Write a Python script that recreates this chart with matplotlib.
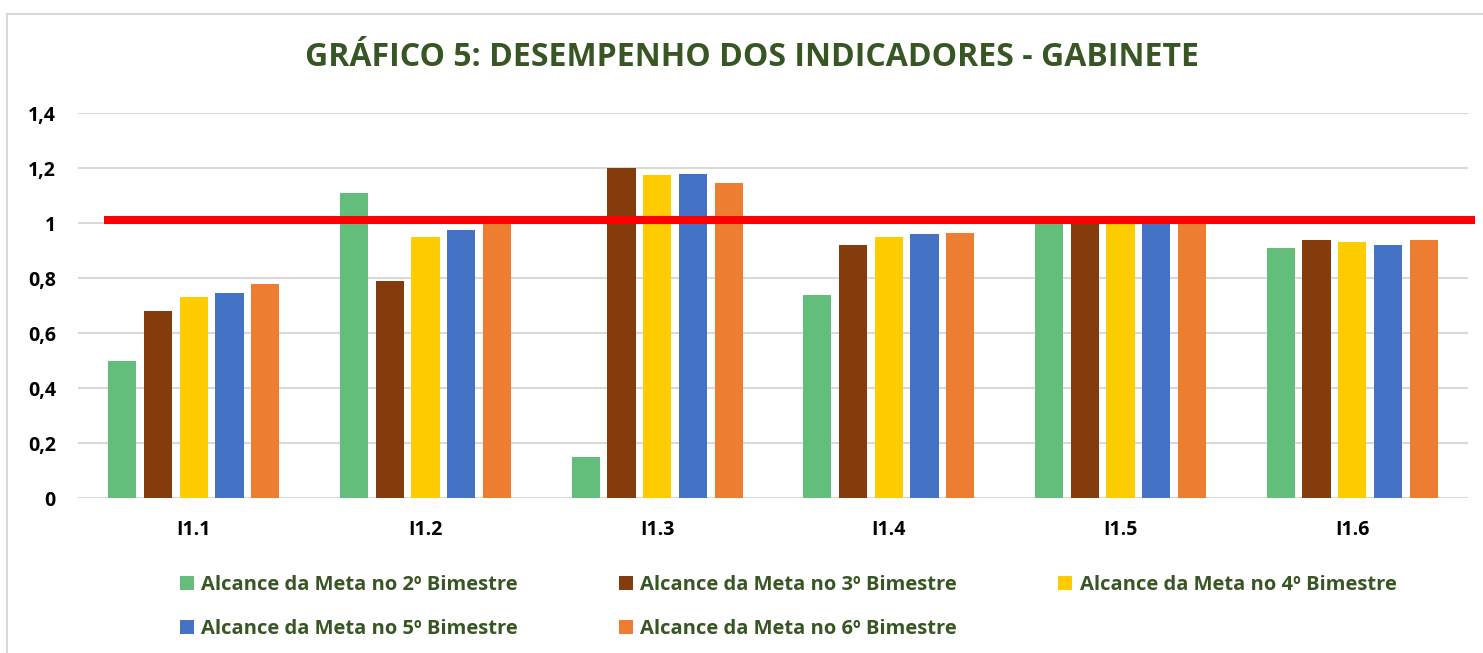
import numpy as np
import matplotlib.pyplot as plt

plt.rcParams['font.family'] = ['Open Sans', 'DejaVu Sans']

categories = ['I1.1', 'I1.2', 'I1.3', 'I1.4', 'I1.5', 'I1.6']
series_names = ['Alcance da Meta no 2º Bimestre', 'Alcance da Meta no 3º Bimestre',
                'Alcance da Meta no 4º Bimestre', 'Alcance da Meta no 5º Bimestre',
                'Alcance da Meta no 6º Bimestre']
bim2 = [0.50, 1.11, 0.15, 0.74, 1.00, 0.91]
bim3 = [0.68, 0.79, 1.20, 0.92, 1.00, 0.94]
bim4 = [0.73, 0.95, 1.175, 0.95, 1.00, 0.93]
bim5 = [0.745, 0.975, 1.18, 0.96, 1.00, 0.92]
bim6 = [0.78, 1.00, 1.145, 0.965, 1.00, 0.94]
meta = 1.01
yticks = [0, 0.2, 0.4, 0.6, 0.8, 1.0, 1.2, 1.4]
ytick_labels = ['0', '0,2', '0,4', '0,6', '0,8', '1', '1,2', '1,4']

colors = ['#63BE7B', '#843C0C', '#FFCC00', '#4472C4', '#ED7D31']
green_txt = '#375623'

fig = plt.figure(figsize=(14.83, 6.53), dpi=100)
ax = fig.add_axes([78 / 1483, 1 - 498 / 653, 1390 / 1483, 385 / 653])

x = np.arange(len(categories))
step = 0.154
width = 0.121
handles = []
for i, vals in enumerate([bim2, bim3, bim4, bim5, bim6]):
    h = ax.bar(x + (i - 2) * step, vals, width, color=colors[i], label=series_names[i], zorder=2)
    handles.append(h)

# linha da meta
ax.axhline(meta, xmin=0.019, xmax=1.005, color='#FF0000', lw=5.8, zorder=3,
           clip_on=False, solid_capstyle='butt')

ax.set_xlim(-0.5, 5.5)
ax.set_ylim(0, 1.4)
ax.set_yticks(yticks)
ax.set_yticklabels(ytick_labels)
ax.set_xticks(x)
ax.set_xticklabels(categories)
ax.grid(axis='y', color='#D9D9D9', lw=1.5, zorder=0)
for s in ax.spines.values():
    s.set_visible(False)
ax.tick_params(axis='both', length=0, labelsize=14)
ax.tick_params(axis='y', pad=16)
ax.tick_params(axis='x', pad=16)
for lab in ax.get_xticklabels() + ax.get_yticklabels():
    lab.set_fontweight('bold')

fig.text(752 / 1483, 1 - 58 / 653, 'GRÁFICO 5: DESEMPENHO DOS INDICADORES - GABINETE',
         ha='center', va='center', fontsize=23, fontweight='bold', color=green_txt)

order = [0, 3, 1, 4, 2]
leg = ax.legend([handles[k] for k in order], [series_names[k] for k in order], ncol=3,
                loc='upper left', bbox_to_anchor=(180 / 1483, 1 - 575 / 653),
                bbox_transform=fig.transFigure, frameon=False, borderpad=0, borderaxespad=0,
                handlelength=0.7, handleheight=0.7, handletextpad=0.35,
                columnspacing=5.03, labelspacing=1.2,
                prop={'size': 14.5, 'weight': 'bold'})
for t in leg.get_texts():
    t.set_color(green_txt)

# moldura do gráfico
fig.add_artist(plt.Line2D([7 / 1483, 7 / 1483], [0, 1 - 14 / 653], color='#D9D9D9', lw=1.5))
fig.add_artist(plt.Line2D([7 / 1483, 1482 / 1483], [1 - 14 / 653, 1 - 14 / 653], color='#D9D9D9', lw=1.5))

fig.savefig('out.png', dpi=100)
